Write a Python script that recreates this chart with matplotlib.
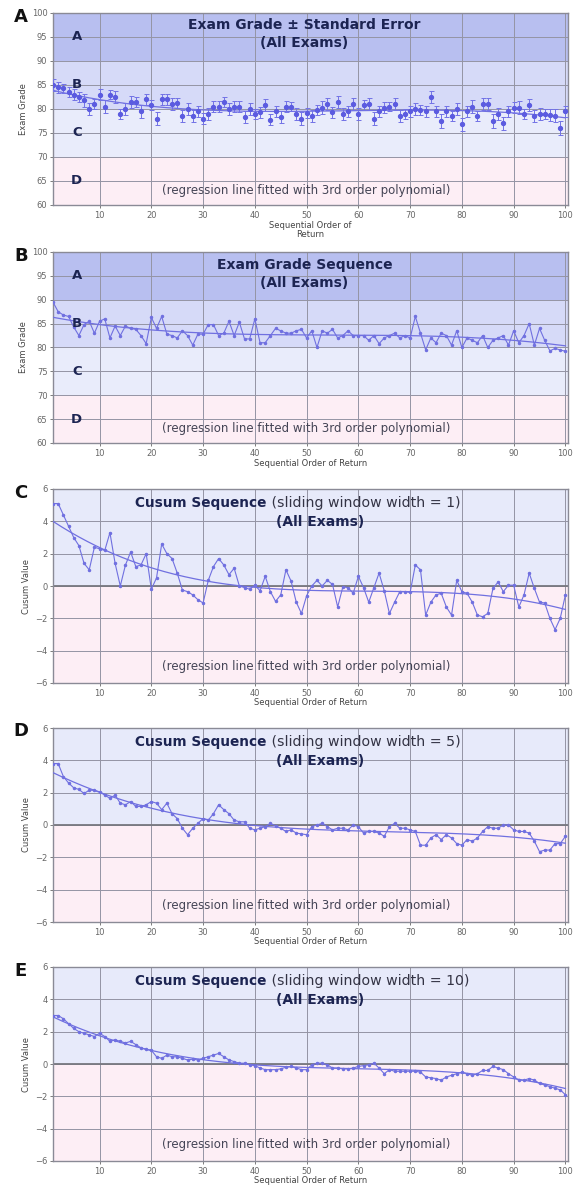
import numpy as np
import matplotlib
matplotlib.use("Agg")
import matplotlib.pyplot as plt

# ---------------- data ----------------
order = np.arange(1, 101)

grade_mean = [85.0, 84.5, 84.3, 83.5, 83.0, 82.5, 81.8, 80.0, 81.0, 83.0,
              80.5, 83.0, 82.5, 79.0, 80.0, 81.5, 81.5, 79.5, 82.0, 80.8,
              78.0, 82.0, 82.0, 81.0, 81.2, 78.5, 80.0, 78.5, 79.5, 78.0,
              79.0, 80.5, 80.5, 81.5, 80.0, 80.5, 80.5, 78.3, 80.0, 79.0,
              79.3, 80.8, 77.8, 79.5, 78.3, 80.5, 80.5, 79.0, 78.0, 79.2,
              78.5, 79.8, 80.3, 81.0, 79.3, 81.5, 79.0, 79.5, 81.0, 79.0,
              80.8, 81.0, 78.0, 79.5, 80.3, 80.5, 81.0, 78.5, 79.0, 79.5,
              80.0, 79.8, 79.5, 82.5, 79.5, 77.5, 79.5, 78.5, 80.0, 76.8,
              79.5, 80.5, 78.5, 81.0, 81.0, 77.5, 79.0, 77.0, 79.5, 80.3,
              80.3, 79.0, 80.8, 78.5, 79.0, 79.0, 78.8, 78.6, 76.0, 79.5]

grade_se = [1.2, 1.1, 1.0, 1.1, 1.2, 1.0, 1.3, 1.2, 1.1, 1.2,
            1.3, 1.0, 1.2, 1.1, 1.3, 1.2, 1.0, 1.3, 1.2, 1.1,
            1.4, 1.2, 1.1, 1.2, 1.0, 1.3, 1.2, 1.3, 1.1, 1.2,
            1.3, 1.1, 1.2, 1.0, 1.3, 1.2, 1.1, 1.3, 1.2, 1.1,
            1.2, 1.3, 1.2, 1.1, 1.3, 1.2, 1.0, 1.2, 1.3, 1.1,
            1.2, 1.1, 1.3, 1.2, 1.1, 1.3, 1.2, 1.1, 1.2, 1.3,
            1.1, 1.2, 1.3, 1.1, 1.2, 1.0, 1.3, 1.2, 1.1, 1.2,
            1.3, 1.1, 1.2, 1.3, 1.2, 1.4, 1.2, 1.1, 1.3, 1.4,
            1.2, 1.3, 1.1, 1.2, 1.3, 1.4, 1.2, 1.3, 1.1, 1.2,
            1.3, 1.1, 1.2, 1.3, 1.2, 1.1, 1.2, 1.3, 1.4, 1.2]

grade_seq = [89.5, 87.5, 86.8, 86.5, 84.3, 82.5, 84.8, 85.5, 83.0, 85.5,
             86.0, 82.0, 84.5, 82.5, 84.5, 84.0, 83.8, 82.5, 80.8, 86.3,
             84.0, 86.5, 82.8, 82.5, 82.0, 83.5, 82.5, 80.5, 82.8, 82.8,
             84.8, 84.8, 82.5, 83.0, 85.5, 82.5, 85.3, 81.8, 81.8, 86.0,
             81.0, 81.0, 82.5, 84.0, 83.5, 83.0, 83.0, 83.5, 83.8, 82.0,
             83.5, 80.0, 83.5, 83.0, 83.8, 82.0, 82.5, 83.5, 82.5, 82.5,
             82.5, 81.5, 82.5, 80.8, 82.0, 82.5, 83.0, 82.0, 82.5, 82.0,
             86.5, 83.0, 79.5, 82.0, 81.0, 83.0, 82.5, 80.5, 83.5, 80.0,
             82.0, 81.5, 81.0, 82.5, 80.0, 81.5, 82.0, 82.5, 80.5, 83.5,
             81.0, 82.5, 85.0, 80.5, 84.0, 81.5, 79.3, 79.8, 79.5, 79.2]

cusum_w1 = [5.1, 5.1, 4.4, 3.7, 3.0, 2.5, 1.4, 1.0, 2.4, 2.3,
            2.2, 3.3, 1.4, 0.0, 1.3, 2.1, 1.2, 1.3, 2.0, -0.2,
            0.5, 2.6, 2.0, 1.7, 0.8, -0.25, -0.35, -0.55, -0.85, -1.05,
            0.35, 1.2, 1.7, 1.3, 0.7, 1.1, 0.0, -0.1, -0.2, 0.05,
            -0.3, 0.6, -0.35, -0.95, -0.55, 1.0, 0.3, -1.0, -1.7, -0.6,
            0.0, 0.35, 0.0, 0.35, 0.1, -1.3, -0.05, -0.1, -0.45, 0.6,
            -0.1, -1.0, -0.1, 0.8, -0.3, -1.7, -1.0, -0.35, -0.35, -0.4,
            1.3, 1.0, -1.8, -1.0, -0.55, -0.45, -1.3, -1.8, 0.35, -0.35,
            -0.45, -1.0, -1.8, -1.9, -1.7, -0.15, 0.25, -0.35, 0.05, 0.05,
            -1.3, -0.55, 0.8, -0.15, -1.0, -1.05, -2.0, -2.7, -2.0, -0.55]

cusum_w5 = [3.8, 3.8, 3.0, 2.6, 2.3, 2.2, 1.95, 2.15, 2.15, 2.05,
            1.85, 1.65, 1.85, 1.35, 1.25, 1.45, 1.15, 1.15, 1.25, 1.45,
            1.35, 0.95, 1.35, 0.7, 0.4, -0.2, -0.6, -0.2, 0.1, 0.4,
            0.3, 0.7, 1.25, 0.95, 0.7, 0.3, 0.2, 0.2, -0.2, -0.3,
            -0.2, -0.1, 0.1, -0.05, -0.2, -0.4, -0.3, -0.5, -0.55, -0.6,
            -0.1, 0.0, 0.1, -0.1, -0.3, -0.2, -0.2, -0.3, 0.0, -0.1,
            -0.5, -0.4, -0.4, -0.5, -0.7, -0.1, 0.1, -0.2, -0.2, -0.3,
            -0.4, -1.25, -1.25, -0.8, -0.6, -0.9, -0.6, -0.8, -1.15, -1.25,
            -0.9, -1.0, -0.8, -0.4, -0.1, -0.2, -0.2, 0.0, 0.0, -0.3,
            -0.4, -0.4, -0.5, -1.0, -1.65, -1.55, -1.55, -1.15, -1.15, -0.7]

cusum_w10 = [3.0, 3.0, 2.8, 2.5, 2.2, 2.0, 1.9, 1.8, 1.7, 1.9,
             1.7, 1.4, 1.5, 1.4, 1.3, 1.4, 1.2, 1.0, 0.9, 0.85,
             0.45, 0.35, 0.55, 0.45, 0.45, 0.35, 0.25, 0.3, 0.25, 0.35,
             0.45, 0.55, 0.65, 0.45, 0.25, 0.15, 0.05, 0.05, -0.05, -0.1,
             -0.25, -0.35, -0.35, -0.35, -0.3, -0.2, -0.15, -0.25, -0.35, -0.35,
             -0.05, 0.05, 0.05, -0.05, -0.25, -0.25, -0.3, -0.3, -0.25, -0.15,
             -0.1, -0.05, 0.05, -0.25, -0.6, -0.35, -0.45, -0.45, -0.45, -0.45,
             -0.45, -0.5, -0.8, -0.85, -0.9, -1.0, -0.8, -0.7, -0.6, -0.5,
             -0.6, -0.7, -0.6, -0.4, -0.4, -0.15, -0.25, -0.35, -0.6, -0.8,
             -1.0, -1.0, -0.9, -1.0, -1.2, -1.3, -1.4, -1.5, -1.6, -1.9]

x_ticks = [10, 20, 30, 40, 50, 60, 70, 80, 90, 100]
grade_ticks = [60, 65, 70, 75, 80, 85, 90, 95, 100]
cusum_ticks = [-6, -4, -2, 0, 2, 4, 6]
band_edges = [(90, 100), (80, 90), (70, 80), (60, 70)]
band_letters = ["A", "B", "C", "D"]
window_widths = [1, 5, 10]
panel_letters = ["A", "B", "C", "D", "E"]

# ---------------- style ----------------
band_colors = ["#b8bff0", "#d6daf8", "#e9ecfb", "#fdeef5"]
pos_color = "#e7eafa"
neg_color = "#fdeef5"
line_color = "#7070e0"
navy = "#1c2452"
grid_color = "#9494a4"

fig = plt.figure(figsize=(5.73, 11.88), dpi=100)
W, H = 573.0, 1188.0
left_px, right_px = 53, 568
panel_px = [(13, 205), (252, 443), (489, 683), (728, 922), (967, 1161)]
axes = []
for top, bot in panel_px:
    ax = fig.add_axes([left_px / W, 1 - bot / H, (right_px - left_px) / W, (bot - top) / H])
    axes.append(ax)

def base_style(ax, ylim, yticks):
    ax.set_xlim(1, 100.5)
    ax.set_ylim(*ylim)
    ax.set_xticks(x_ticks)
    ax.set_yticks(yticks)
    ax.tick_params(labelsize=6, colors="#666666", length=2, width=0.6, pad=2)
    ax.grid(True, color=grid_color, lw=0.7)
    for s in ax.spines.values():
        s.set_color("#8a8a96")
        s.set_linewidth(1.0)

def poly_line(ax, y):
    c = np.polyfit(order, y, 3)
    xs = np.linspace(1, 100, 300)
    ax.plot(xs, np.polyval(c, xs), color=line_color, lw=0.9, zorder=3)

foot = "(regression line fitted with 3rd order polynomial)"
foot_size = 8.5
title_size = 10

# Panel A and B: grade charts
for i, ax in enumerate(axes[:2]):
    base_style(ax, (60, 100), grade_ticks)
    for (lo, hi), col, let in zip(band_edges, band_colors, band_letters):
        ax.axhspan(lo, hi, color=col, zorder=0, lw=0)
        ax.text(5.6, (lo + hi) / 2, let, fontsize=9.5, fontweight="bold",
                color=navy, ha="center", va="center", zorder=5)
    ax.set_ylabel("Exam Grade", fontsize=6, color="#444444", labelpad=3)
    ax.text(50, 63.1, foot, fontsize=foot_size, color="#444455", ha="center", va="center")

ax = axes[0]
ax.errorbar(order, grade_mean, yerr=grade_se, fmt="o", ms=2.8, color="#5b5be0",
            ecolor="#7272e6", elinewidth=0.7, capsize=1.8, capthick=0.7, zorder=4)
poly_line(ax, grade_mean)
ax.text(49.6, 97.5, "Exam Grade \u00b1 Standard Error", fontsize=title_size, fontweight="bold",
        color=navy, ha="center", va="center")
ax.text(49.6, 93.8, "(All Exams)", fontsize=title_size, fontweight="bold",
        color=navy, ha="center", va="center")
ax.set_xlabel("Sequential Order of\nReturn", fontsize=6, color="#444444", labelpad=1,
              linespacing=1.0)

ax = axes[1]
ax.plot(order, grade_seq, "-", marker="o", ms=1.5, lw=0.8, color=line_color, zorder=4)
poly_line(ax, grade_seq)
ax.text(49.6, 97.3, "Exam Grade Sequence", fontsize=title_size, fontweight="bold",
        color=navy, ha="center", va="center")
ax.text(49.6, 93.5, "(All Exams)", fontsize=title_size, fontweight="bold",
        color=navy, ha="center", va="center")
ax.set_xlabel("Sequential Order of Return", fontsize=6, color="#444444", labelpad=1)

# Panels C, D, E: cusum
for ax, data, w in zip(axes[2:], [cusum_w1, cusum_w5, cusum_w10], window_widths):
    base_style(ax, (-6, 6), cusum_ticks)
    ax.axhspan(0, 6, color=pos_color, zorder=0, lw=0)
    ax.axhspan(-6, 0, color=neg_color, zorder=0, lw=0)
    ax.axhline(0, color="#77777f", lw=1.3, zorder=2)
    ax.plot(order, data, "-", marker="o", ms=1.5, lw=0.8, color=line_color, zorder=4)
    poly_line(ax, data)
    ax.text(42.3, 5.13, "Cusum Sequence", fontsize=9.8, fontweight="bold",
            color=navy, ha="right", va="center")
    ax.text(42.3, 5.13, " (sliding window width = %d)" % w, fontsize=10.2,
            color="#333344", ha="left", va="center")
    ax.text(52.7, 3.96, "(All Exams)", fontsize=title_size, fontweight="bold",
            color=navy, ha="center", va="center")
    ax.text(50, -5.0, foot, fontsize=foot_size, color="#444455", ha="center", va="center")
    ax.set_ylabel("Cusum Value", fontsize=6, color="#444444", labelpad=3)
    ax.set_xlabel("Sequential Order of Return", fontsize=6, color="#444444", labelpad=0)

# panel letters
for let, ypx in zip(panel_letters, [17, 256, 493, 731, 971]):
    fig.text(21 / W, 1 - ypx / H, let, fontsize=13, fontweight="bold",
             color="#111111", ha="center", va="center")

fig.savefig("out.png", dpi=100, facecolor="white")
